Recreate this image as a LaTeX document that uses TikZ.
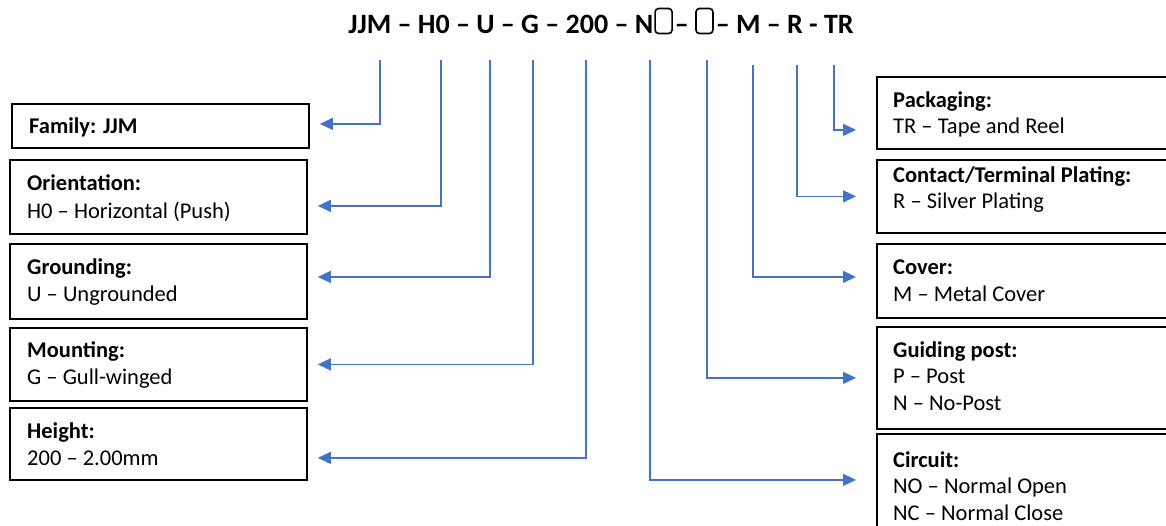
\documentclass[tikz,border=0pt]{standalone}
\usepackage{fontspec}
\setmainfont{Carlito}
\usetikzlibrary{arrows.meta}
\definecolor{conncol}{RGB}{68,114,196}
\newcommand\sqbox{\tikz[x=1pt,y=1pt,baseline=0pt]\draw[line width=1.6pt,rounded corners=3.5pt] (0,-0.5) rectangle (17,24.5);}
\begin{document}
\begin{tikzpicture}[x=1pt,y=-1pt,
  box/.style={draw=black,line width=1.8pt,rectangle,inner sep=0pt,anchor=north west},
  lbox/.style={box,minimum width=297pt},
  rbox/.style={box,minimum width=300pt},
  txt/.style={anchor=base west,inner sep=0pt,font=\fontsize{22.5}{26}\selectfont},
  conn/.style={draw=conncol,line width=1.3pt,-{Triangle[length=13pt,width=12pt]}},
  lconn/.style={conn,shorten >=10pt},
  rconn/.style={conn,shorten >=20pt}]
\useasboundingbox (0,0) rectangle (1166,525);
% title
\node[anchor=base,inner sep=0pt,font=\fontsize{28}{30}\selectfont\bfseries] (title) at (601,33)
  {JJM – H0 – U – G – 200 – N\hspace{1pt}\sqbox\hspace{2pt}– \sqbox\hspace{2pt}– M – R - TR};
% left boxes
\node[lbox,minimum height=44pt] (fam) at (11,103) {};
\node[lbox,minimum height=74pt] (ori) at (9,159) {};
\node[lbox,minimum height=75pt] (gnd) at (9,243) {};
\node[lbox,minimum height=73pt] (mnt) at (9,327) {};
\node[lbox,minimum height=72pt] (hgt) at (9,407) {};
% right boxes
\node[rbox,minimum height=72pt] (pkg) at (876,76) {};
\node[rbox,minimum height=73pt] (plt) at (876,159) {};
\node[rbox,minimum height=74pt] (cov) at (876,243) {};
\node[rbox,minimum height=102pt] (gui) at (876,326) {};
\node[rbox,minimum height=102pt] (cir) at (876,433) {};
% left texts
\node[txt] (famA) at (29,133) {\textbf{Family: JJM}};
\node[txt] (oriA) at (27,190) {\textbf{Orientation:}};
\node[txt] (oriB) at (27,218) {H0 – Horizontal (Push)};
\node[txt] (gndA) at (27,274) {\textbf{Grounding:}};
\node[txt] (gndB) at (27,301) {U – Ungrounded};
\node[txt] (mntA) at (27,357) {\textbf{Mounting:}};
\node[txt] (mntB) at (27,384) {G – Gull-winged};
\node[txt] (hgtA) at (27,438) {\textbf{Height:}};
\node[txt] (hgtB) at (27,465) {200 – 2.00mm};
% right texts
\node[txt] (pkgA) at (893,107) {\textbf{Packaging:}};
\node[txt] (pkgB) at (893,133) {TR – Tape and Reel};
\node[txt] (pltA) at (893,182) {\textbf{Contact/Terminal Plating:}};
\node[txt] (pltB) at (893,208) {R – Silver Plating};
\node[txt] (covA) at (893,274) {\textbf{Cover:}};
\node[txt] (covB) at (893,301) {M – Metal Cover};
\node[txt] (guiA) at (893,357) {\textbf{Guiding post:}};
\node[txt] (guiB) at (893,383) {P – Post};
\node[txt] (guiC) at (893,410) {N – No-Post};
\node[txt] (cirA) at (893,467) {\textbf{Circuit:}};
\node[txt] (cirB) at (893,493) {NO – Normal Open};
\node[txt] (cirC) at (893,520) {NC – Normal Close};
% connector start points
\coordinate (tFam) at (380,60);
\coordinate (tOri) at (441,60);
\coordinate (tGnd) at (490,60);
\coordinate (tMnt) at (533,60);
\coordinate (tHgt) at (586,60);
\coordinate (tCir) at (650,60);
\coordinate (tGui) at (707,60);
\coordinate (tCov) at (753,65);
\coordinate (tPlt) at (797,65);
\coordinate (tPkg) at (834,65);
% connectors
\draw[lconn] (tFam) |- ([yshift=2pt]fam.east);
\draw[lconn] (tOri) |- ([yshift=-9pt]ori.east);
\draw[lconn] (tGnd) |- ([yshift=4.5pt]gnd.east);
\draw[lconn] (tMnt) |- (mnt.east);
\draw[lconn] (tHgt) |- ([yshift=-14pt]hgt.east);
\draw[rconn] (tCir) |- ([yshift=5pt]cir.west);
\draw[rconn] (tGui) |- (gui.west);
\draw[rconn] (tCov) |- ([yshift=4pt]cov.west);
\draw[rconn] (tPlt) |- (plt.west);
\draw[rconn] (tPkg) |- ([yshift=-17pt]pkg.west);
\end{tikzpicture}
\end{document}
